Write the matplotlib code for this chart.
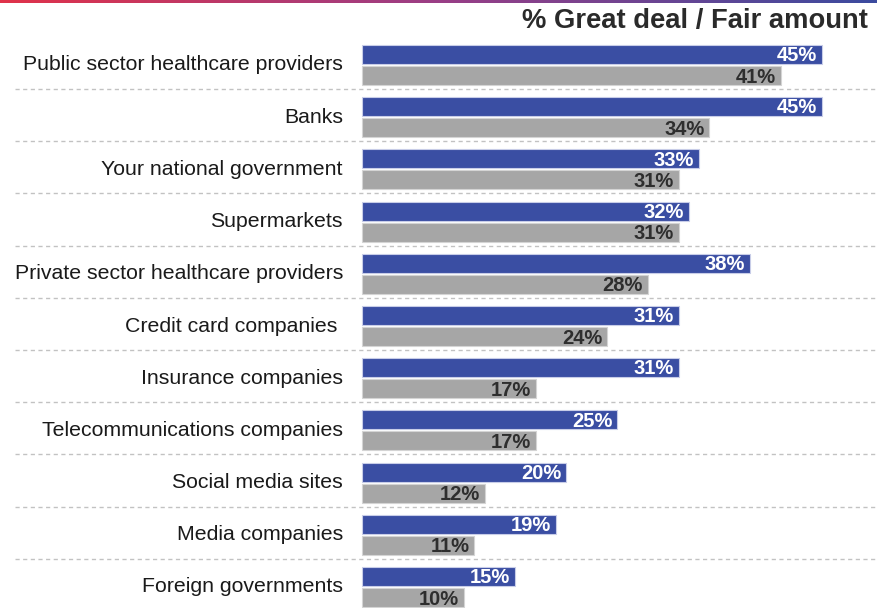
import matplotlib.pyplot as plt
import numpy as np
from matplotlib.colors import LinearSegmentedColormap

categories = ['Public sector healthcare providers', 'Banks', 'Your national government',
              'Supermarkets', 'Private sector healthcare providers', 'Credit card companies ',
              'Insurance companies', 'Telecommunications companies', 'Social media sites',
              'Media companies', 'Foreign governments']
blue_vals = [45, 45, 33, 32, 38, 31, 31, 25, 20, 19, 15]
grey_vals = [41, 34, 31, 31, 28, 24, 17, 17, 12, 11, 10]

W, H = 878, 608
ppu = 10.22          # pixels per percentage point
x0 = 362             # pixel where bars start
pitch = 52.2         # pixels per category row
y0 = 65              # pixel centre of first row

blue = '#3a4ea3'
grey = '#a6a6a6'

plt.rcParams['font.family'] = ['Liberation Sans', 'DejaVu Sans']

fig = plt.figure(figsize=(W / 100, H / 100), dpi=100)
ax = fig.add_axes([0, 0, 1, 1])
ax.set_xlim(-x0 / ppu, (W - x0) / ppu)
ax.set_ylim((H - y0) / pitch, -y0 / pitch)
ax.axis('off')

y = np.arange(len(categories))
off = 0.2
h = 0.365
ax.barh(y - off, blue_vals, height=h, color=blue, edgecolor='#c8cde8', linewidth=0.8, zorder=3)
ax.barh(y + off, grey_vals, height=h, color=grey, edgecolor='#d4d4d4', linewidth=0.8, zorder=3)

pad = 0.5
for i in range(len(categories)):
    ax.text(blue_vals[i] - pad, y[i] - off + 0.02, f'{blue_vals[i]}%', ha='right', va='center',
            color='white', fontsize=14.5, fontweight='bold', zorder=4)
    ax.text(grey_vals[i] - pad, y[i] + off + 0.03, f'{grey_vals[i]}%', ha='right', va='center',
            color='#2e2e2e', fontsize=14.5, fontweight='bold', zorder=4)
    ax.text(-19 / ppu, y[i], categories[i], ha='right', va='center',
            color='#1a1a1a', fontsize=15.3)
    if i < len(categories) - 1:
        ax.plot([(15 - x0) / ppu, (W - x0) / ppu], [i + 0.46, i + 0.46],
                color='#c2c2c2', lw=1.0, ls=(0, (3, 2.5)), zorder=1)

# heading above the bars
ax.text((868 - x0) / ppu, (21 - y0) / pitch, '% Great deal / Fair amount', ha='right', va='center',
        fontsize=19.7, fontweight='bold', color='#2a2a2a')

# gradient strip along the top edge
cmap = LinearSegmentedColormap.from_list('strip', ['#e0324a', '#9a3e86', '#3b4b9f'])
strip = fig.add_axes([0, 1 - 3.5 / H, 1, 3.5 / H])
strip.imshow(np.linspace(0, 1, 256)[None, :], aspect='auto', cmap=cmap)
strip.axis('off')

fig.savefig('out.png', dpi=100)
